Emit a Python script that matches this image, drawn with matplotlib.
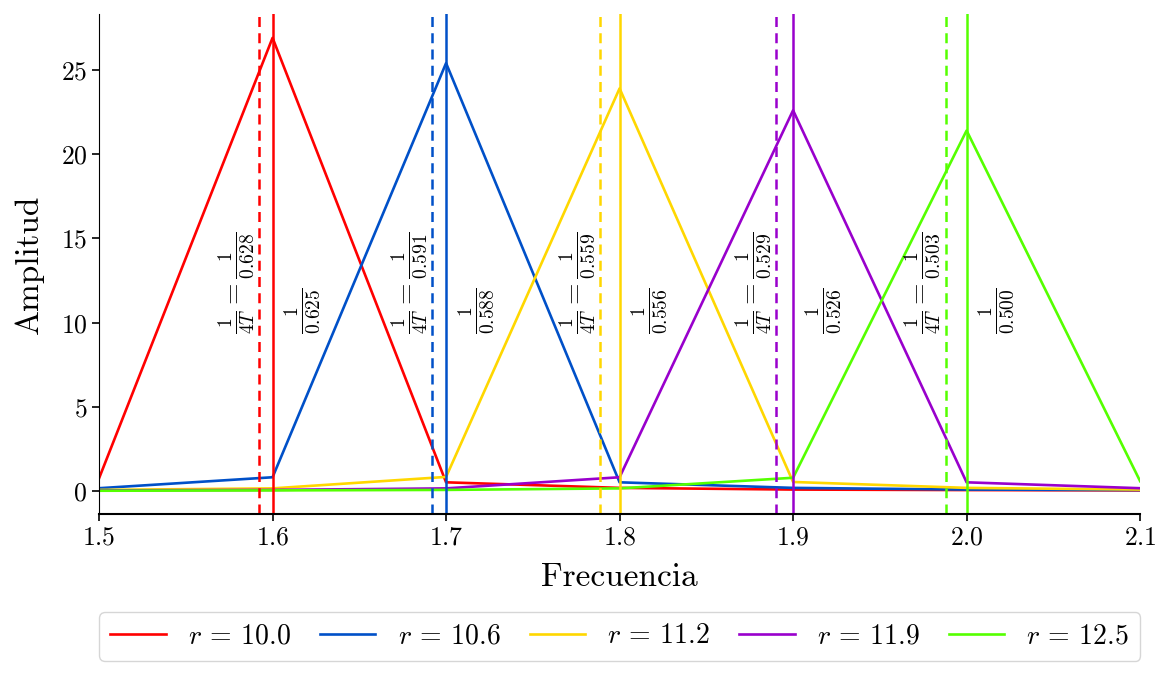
import matplotlib
matplotlib.use('Agg')
import matplotlib.pyplot as plt
import numpy as np

plt.rcParams['font.family'] = 'serif'
plt.rcParams['font.serif'] = ['cmr10']
plt.rcParams['mathtext.fontset'] = 'cm'
plt.rcParams['axes.formatter.use_mathtext'] = True

freq = [1.5, 1.6, 1.7, 1.8, 1.9, 2.0, 2.1]
r_vals = ['10.0', '10.6', '11.2', '11.9', '12.5']
colors = ['#ff0000', '#0050c8', '#ffd700', '#9900cc', '#55ff00']

amp_r10 = [0.77, 26.9, 0.53, 0.20, 0.10, 0.07, 0.05]
amp_r106 = [0.18, 0.83, 25.4, 0.53, 0.20, 0.10, 0.07]
amp_r112 = [0.08, 0.17, 0.85, 23.9, 0.55, 0.20, 0.10]
amp_r119 = [0.05, 0.08, 0.17, 0.83, 22.6, 0.53, 0.18]
amp_r125 = [0.03, 0.05, 0.08, 0.17, 0.80, 21.4, 0.60]
amps = [amp_r10, amp_r106, amp_r112, amp_r119, amp_r125]

T4 = ['0.628', '0.591', '0.559', '0.529', '0.503']    # 4T
T_real = ['0.625', '0.588', '0.556', '0.526', '0.500']
f_real = [1.6, 1.7, 1.8, 1.9, 2.0]

fig = plt.figure(figsize=(11.75, 6.79), dpi=100)
ax = fig.add_axes([0.0843, 0.243, 0.886, 0.736])

for amp, r, c in zip(amps, r_vals, colors):
    ax.plot(freq, amp, color=c, lw=1.9, label=r'$r$ = ' + r)

for t4, tr, fr, c in zip(T4, T_real, f_real, colors):
    f4 = 1 / float(t4)
    ax.axvline(f4, color=c, ls='--', lw=1.8, dashes=(4, 2.5))
    ax.axvline(fr, color=c, ls='-', lw=1.8)
    ax.text(f4 - 0.0135, 9.3, r'$\frac{1}{4T} = \frac{1}{%s}$' % t4, rotation=90,
            ha='center', va='bottom', fontsize=20)
    ax.text(fr + 0.017, 9.3, r'$\frac{1}{%s}$' % tr, rotation=90,
            ha='center', va='bottom', fontsize=20)

ax.set_xlim(1.5, 2.1)
ax.set_ylim(-1.35, 28.3)
ax.set_xticks([1.5, 1.6, 1.7, 1.8, 1.9, 2.0, 2.1])
ax.set_yticks([0, 5, 10, 15, 20, 25])
ax.tick_params(labelsize=18.5, width=1.2, length=5)
ax.set_xlabel('Frecuencia', fontsize=24, labelpad=10)
ax.set_ylabel('Amplitud', fontsize=24, labelpad=12)
ax.spines['top'].set_visible(False)
ax.spines['right'].set_visible(False)
ax.spines['bottom'].set_linewidth(1.5)

ax.legend(loc='upper center', bbox_to_anchor=(0, -0.196, 1, 0), mode='expand',
          ncol=5, fontsize=20, handlelength=2.0, borderaxespad=0)

fig.savefig('out.png', dpi=100)
